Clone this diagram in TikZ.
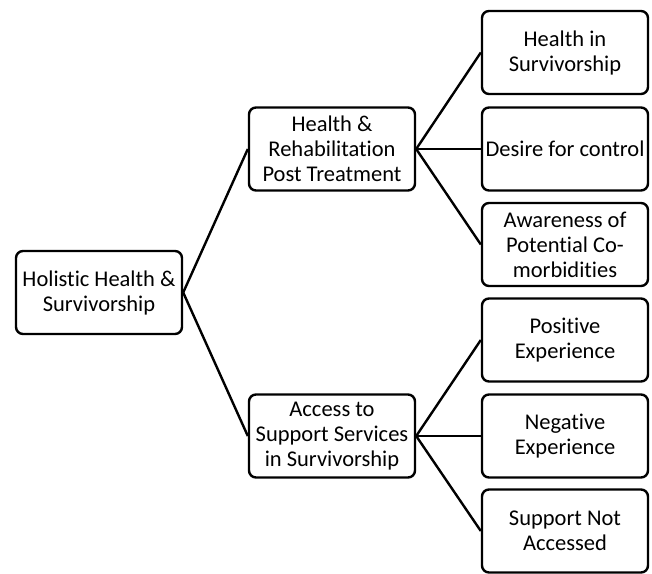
\documentclass[tikz,border=0pt]{standalone}
\usepackage{fontspec}
\setmainfont{Carlito}[Ligatures=NoCommon]

\tikzset{
  box/.style={draw, line width=2.4pt, rounded corners=7pt, align=center,
    minimum width=166pt, minimum height=83pt, inner sep=2pt,
    font=\fontsize{22.5}{25}\selectfont},
  link/.style={line width=2.4pt}
}

\begin{document}
\begin{tikzpicture}[x=1pt,y=-1pt]
\useasboundingbox (0,0) rectangle (652,573);
\node[box] (root) at (99,292.5) {Holistic Health \&\\Survivorship};
\node[box] (rehab) at (332,149) {Health \&\\Rehabilitation\\Post Treatment};
\node[box] (access) at (332,436) {Access to\\Support Services\\in Survivorship};
\node[box] (health) at (565,52.5) {Health in\\Survivorship};
\node[box] (control) at (565,149) {Desire for control};
\node[box] (aware) at (565,244.5) {Awareness of\\Potential Co-\\morbidities};
\node[box] (positive) at (565,340) {Positive\\Experience};
\node[box] (negative) at (565,436) {Negative\\Experience};
\node[box] (notacc) at (565,531) {Support Not\\Accessed};
\draw[link] (root.east) -- (rehab.west);
\draw[link] (root.east) -- (access.west);
\draw[link] (rehab.east) -- (health.west);
\draw[link] (rehab.east) -- (control.west);
\draw[link] (rehab.east) -- (aware.west);
\draw[link] (access.east) -- (positive.west);
\draw[link] (access.east) -- (negative.west);
\draw[link] (access.east) -- (notacc.west);
\end{tikzpicture}
\end{document}
